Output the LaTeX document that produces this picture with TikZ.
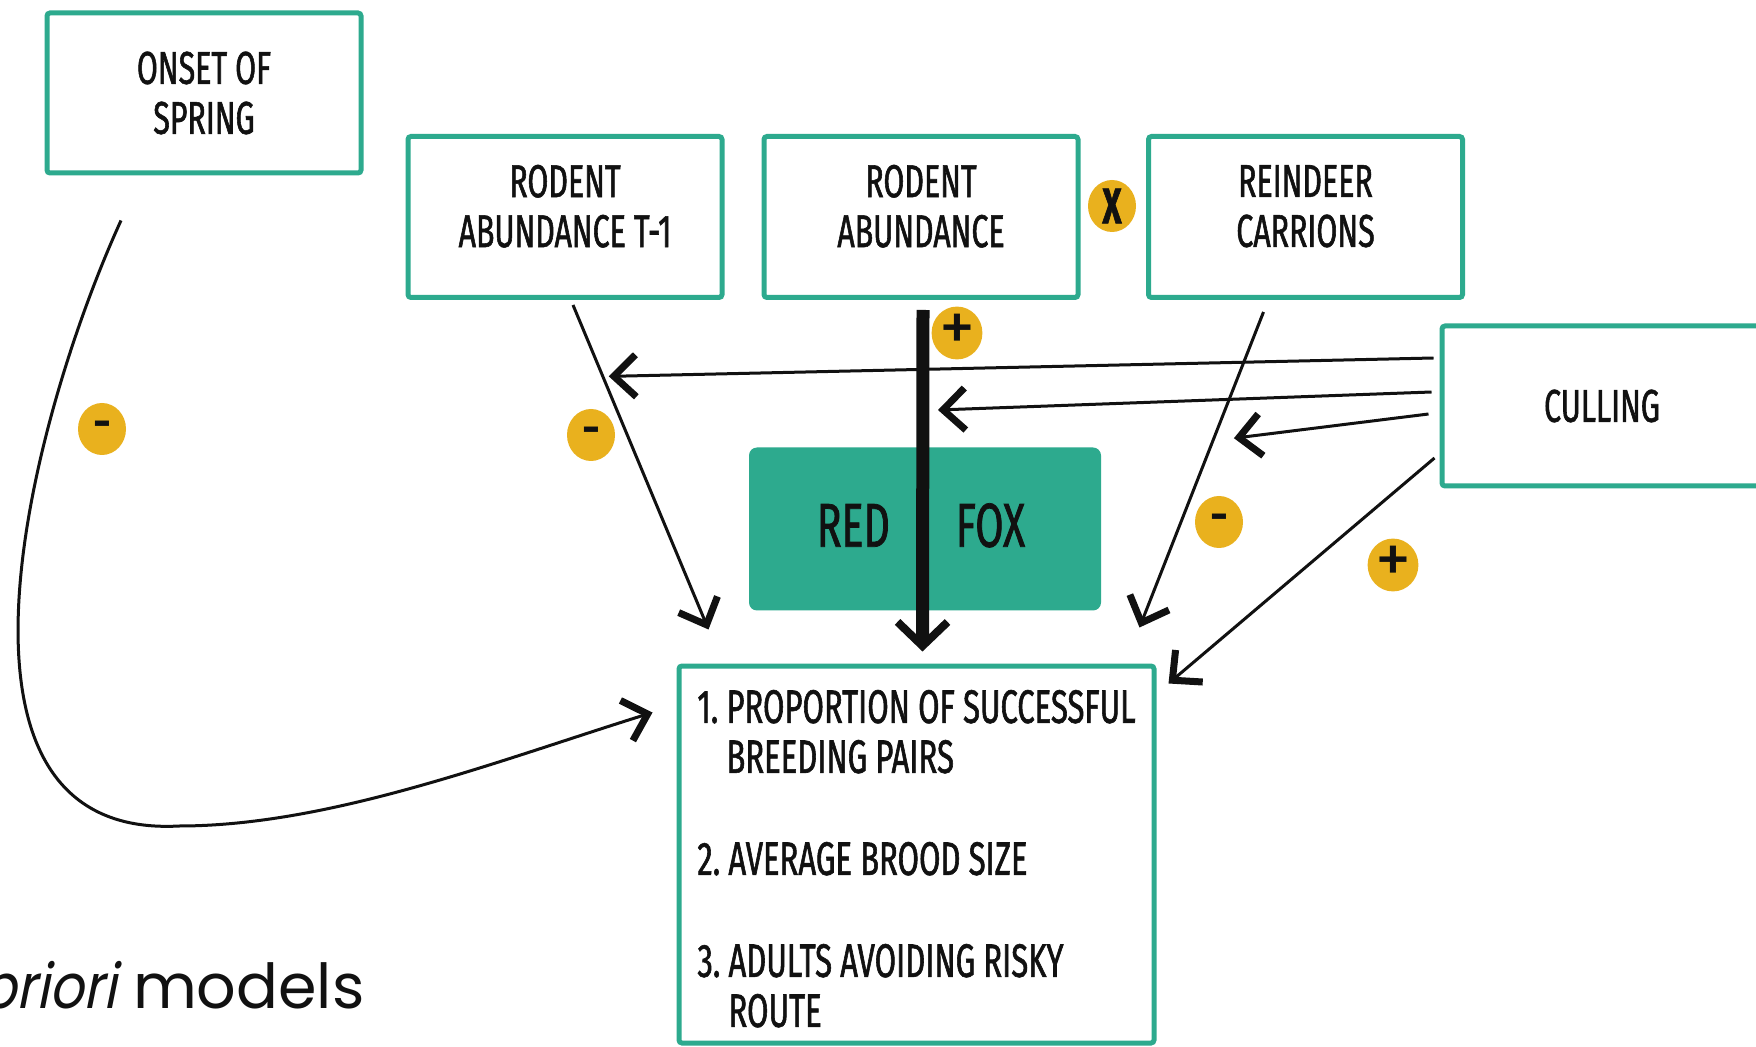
\documentclass[tikz,border=0pt]{standalone}
\usepackage{fontspec}
\usetikzlibrary{arrows.meta,shapes.geometric,calc}
\newfontfamily\boxfont[FakeStretch=0.66,FakeBold=1.2]{Fira Sans}
\newfontfamily\badgefont{Fira Sans}
\newfontfamily\gothicfont[ItalicFont={Poppins},ItalicFeatures={FakeSlant=0.2,FakeStretch=0.86}]{Poppins}
\definecolor{tealc}{HTML}{2DAA8E}
\definecolor{gold}{HTML}{E9B11E}
\definecolor{inkc}{HTML}{111111}
\begin{document}
\begin{tikzpicture}[x=0.5pt,y=-0.5pt,
  box/.style={draw=tealc, line width=2.5pt, rounded corners=1.5pt, fill=white,
    minimum width=157pt, minimum height=80.5pt, inner sep=0pt, align=center,
    font=\boxfont\fontsize{23}{25}\selectfont, text=inkc},
  badge/.style={ellipse, fill=gold, minimum width=24pt, minimum height=26pt,
    inner sep=0pt, text=inkc},
  conn/.style={line width=1.5pt, draw=inkc,
    -{Straight Barb[length=11pt 0,width=21pt 0,line width=3.5pt 0]}},
  heavyconn/.style={line width=6.5pt, draw=inkc,
    -{Straight Barb[length=12pt 0,width=25pt 0,line width=4pt 0]}}
]
\fill[white] (0,0) rectangle (1756,1047);
\useasboundingbox (0,0) rectangle (1756,1047);

% boxes
\node[box, minimum width=157pt, minimum height=80pt] (onset) at (204,93) {ONSET OF\\SPRING};
\node[box] (t1) at (565,217) {RODENT\\ABUNDANCE T-1\\[-14pt]\mbox{}};
\node[box] (rod) at (921,217) {RODENT\\ABUNDANCE\\[-14pt]\mbox{}};
\node[box] (rein) at (1305.5,217) {REINDEER\\CARRIONS\\[-14pt]\mbox{}};
\node[box, minimum width=160pt, minimum height=80pt] (cull) at (1602,406) {CULLING};
\node[fill=tealc, rounded corners=4pt, minimum width=176pt, minimum height=81.5pt,
  inner sep=0pt, font=\boxfont\fontsize{31}{31}\selectfont, text=inkc] (fox) at (925,529)
  {\raisebox{4pt}{\hspace*{-4pt}RED\hspace{33pt}FOX}};
\node[box, minimum width=237.5pt, minimum height=188.5pt, align=left,
  font=\boxfont\fontsize{23.5}{25}\selectfont] (out) at (916.5,854.5)
  {\mbox{}\\[-4.3pt]1.~PROPORTION OF SUCCESSFUL\\\hphantom{1.~}BREEDING PAIRS\\[26pt]
   2.~AVERAGE BROOD SIZE\\[26pt]
   3.~ADULTS AVOIDING RISKY\\\hphantom{3.~}ROUTE};

% text
\node[anchor=base east, inner sep=0pt, font=\gothicfont\fontsize{31}{31}\selectfont, text=inkc]
  (title) at (365,1008) {\textit{priori} models};

% connector end points
\coordinate (on1) at ($(onset.south)+(-83,45)$);
\coordinate (on2) at ($(out.north west)+(-24,49)$);
\coordinate (ta) at ($(t1.south)+(8,5)$);
\coordinate (tb) at ($(out.north west)+(32,-34)$);
\coordinate (ra) at ($(rod.south)+(2,10)$);
\coordinate (rb) at ($(out.north)+(6,-12)$);
\coordinate (ea) at ($(rein.south)+(-42,12)$);
\coordinate (eb) at ($(out.north east)+(-17,-36)$);
\coordinate (hitA) at ($(ta)!0.22!(tb)+(6,0)$);
\coordinate (hitB) at ($(rod.south)+(17,110)$);
\coordinate (hitC) at ($(ea)!0.4!(eb)+(20,0)$);
\coordinate (hitD) at ($(out.north east)+(12,20)$);

% connectors
\draw[conn] (on1) .. controls (30,420) and (-80,840) .. (179,826)
  .. controls (330,826) and (500,760) .. (on2);
\draw[conn] (ta) -- (tb);
\draw[heavyconn] (ra) -- (rb);
\draw[conn] (ea) -- (eb);
\draw[conn] ($(cull.west)+(-6,-48)$) -- (hitA);
\draw[conn] ($(cull.west)+(-8,-14)$) -- (hitB);
\draw[conn] ($(cull.west)+(-11,8)$) -- (hitC);
\draw[conn] ($(cull.west)+(-5,52)$) -- (hitD);

% badges
\node[badge, font=\badgefont\bfseries\fontsize{22}{22}\selectfont] (bOn) at (102,429) {-};
\node[badge, font=\badgefont\bfseries\fontsize{22}{22}\selectfont] (bT1) at (591,435) {-};
\node[badge, font=\badgefont\fontsize{36}{36}\selectfont] (bRod) at (957,333) {+};
\node[badge, font=\boxfont\bfseries\fontsize{25}{25}\selectfont] (bX) at (1112,206) {X};
\node[badge, font=\badgefont\bfseries\fontsize{22}{22}\selectfont] (bRein) at (1219,522) {-};
\node[badge, font=\badgefont\fontsize{36}{36}\selectfont] (bCull) at (1393,565) {+};
\end{tikzpicture}
\end{document}
